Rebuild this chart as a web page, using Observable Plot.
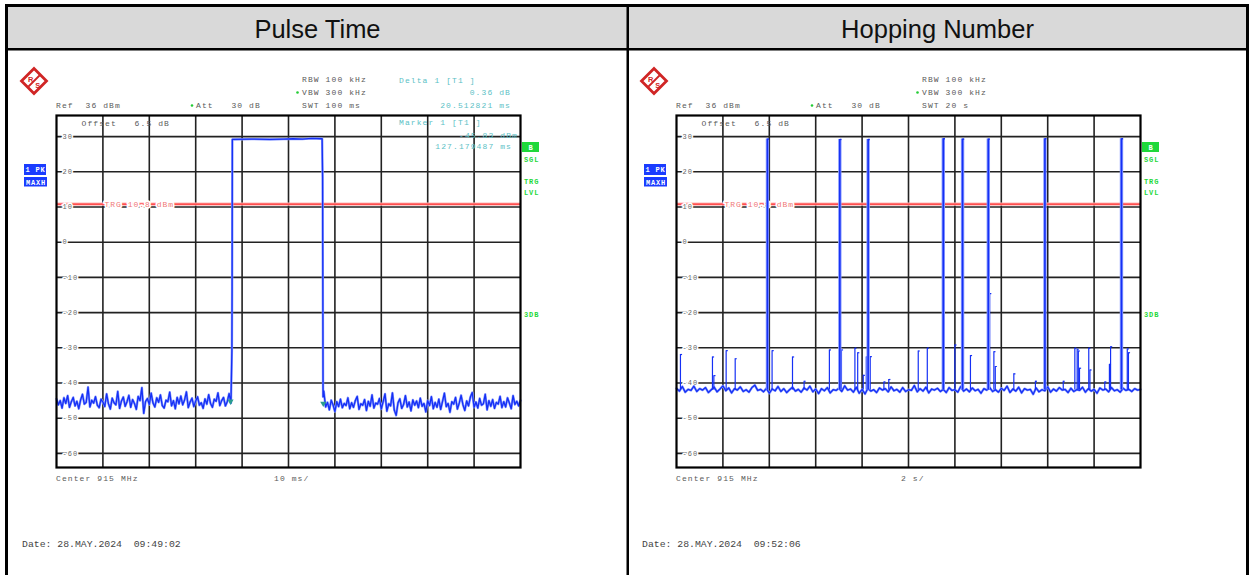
<!DOCTYPE html>
<html><head><meta charset="utf-8">
<script src="https://cdn.jsdelivr.net/npm/d3@7"></script>
<script src="https://cdn.jsdelivr.net/npm/@observablehq/plot@0.6"></script>
<style>
body{margin:0;background:#fff;}
#page{position:relative;width:1250px;height:575px;overflow:hidden;background:#fff;}
.chart{position:absolute;top:50px;width:620px;height:525px;}
#overlay{position:absolute;left:0;top:0;pointer-events:none;}
.mono{font-family:"Liberation Mono","DejaVu Sans Mono",monospace;font-size:8px;letter-spacing:1.1px;fill:#5a5a5a;}
.cyan{font-family:"Liberation Mono","DejaVu Sans Mono",monospace;font-size:8px;letter-spacing:1.1px;fill:#5cbfc6;}
.green{font-family:"Liberation Mono","DejaVu Sans Mono",monospace;font-size:7px;font-weight:bold;letter-spacing:0.9px;fill:#1fd83a;}
.boxw{font-family:"Liberation Mono","DejaVu Sans Mono",monospace;font-size:7px;font-weight:bold;letter-spacing:0.8px;fill:#fff;text-anchor:middle;}
.date{font-family:"Liberation Mono","DejaVu Sans Mono",monospace;font-size:9.8px;fill:#444;}
.title{font-family:"Liberation Sans",Arial,sans-serif;font-size:25.5px;fill:#111;text-anchor:middle;}
</style>
</head><body>
<div id="page">
  <div id="c1" class="chart" style="left:8px"></div>
  <div id="c2" class="chart" style="left:628px"></div>
  <svg id="overlay" width="1250" height="575"></svg>
</div>
<script>
// ---------- data ----------
const refLevel = 36;          // dBm (top of screen)
const bottomLevel = -64;      // dBm (bottom of screen)
const levelTicks = [30, 20, 10, 0, -10, -20, -30, -40, -50, -60];
const trgLevel = 10.8;

// Pulse Time (sweep 100 ms)
const pulseSweep = [0, 100];
const pulseGrid = [10, 20, 30, 40, 50, 60, 70, 80, 90];
const pulseStep = 0.4; // ms between trace samples
const pulseNoiseBefore = [
  -44.5,-46.2,-45.0,-47.1,-44.2,-45.8,-43.6,-46.9,-45.3,-44.1,
  -46.5,-45.2,-47.3,-44.8,-43.2,-46.0,-45.5,-41.2,-46.8,-44.9,
  -45.7,-43.9,-46.3,-47.0,-44.6,-45.4,-46.7,-43.1,-45.9,-47.4,
  -44.3,-45.6,-46.2,-42.4,-47.2,-45.1,-44.0,-46.6,-45.3,-43.5,
  -46.9,-44.7,-45.8,-47.5,-43.8,-45.0,-41.3,-48.6,-45.2,-44.4,
  -46.1,-42.9,-45.7,-46.8,-44.2,-45.5,-43.4,-46.4,-47.1,-44.9,
  -45.3,-42.6,-46.5,-45.0,-47.3,-44.1,-45.9,-43.7,-46.2,-44.8,
  -42.5,-47.0,-45.4,-44.3,-46.7,-45.1,-43.9,-46.3,-45.6,-47.2,
  -44.5,-46.0,-43.3,-45.8,-46.9,-44.6,-45.2,-42.8,-46.4,-45.0,
  -44.1,-46.5,-45.3,-43.0,-45.7
];
const pulseShape = [ // [ms, dBm]
  [37.8,-30.8],[37.85,-12.5],[37.9,29.2],[42,29.3],[46,29.2],[49,29.3],[51,29.4],
  [53,29.3],[55,29.5],[57.25,29.4],[57.35,18.5],[57.45,-43.9]
];
const pulseAfterStart = 57.6;
const pulseNoiseAfter = [
  -42.3,-46.8,-45.5,-47.6,-44.9,-46.2,-48.1,-45.3,-46.7,-44.6,
  -47.0,-45.8,-46.4,-44.2,-47.3,-45.6,-46.9,-45.0,-43.8,-47.5,
  -45.9,-46.3,-44.7,-47.8,-45.2,-46.6,-43.4,-47.1,-45.7,-46.0,
  -44.4,-47.4,-45.3,-43.1,-48.0,-45.9,-46.5,-42.8,-47.7,-49.2,
  -45.6,-44.5,-47.2,-46.1,-43.6,-46.8,-45.4,-47.9,-44.8,-46.3,
  -45.1,-47.0,-44.3,-46.6,-45.8,-48.2,-45.0,-46.4,-43.9,-47.3,
  -45.5,-46.9,-44.6,-47.5,-45.2,-42.9,-46.7,-45.8,-48.3,-45.3,
  -46.0,-44.1,-47.4,-45.7,-43.5,-46.2,-47.8,-45.1,-46.5,-44.0,
  -42.7,-46.9,-45.4,-47.1,-44.4,-46.3,-45.9,-43.2,-47.6,-45.0,
  -46.6,-44.7,-47.2,-45.5,-46.0,-43.8,-47.0,-45.3,-46.8,-44.2,
  -45.7,-47.3,-43.6,-46.1,-45.2,-46.5,-44.9
];
const pulseMarkers = [[37.5,-45.2],[57.5,-45.8]];

// Hopping Number (sweep 20 s)
const hopSweep = [0, 20];
const hopGrid = [2, 4, 6, 8, 10, 12, 14, 16, 18];
const hopStep = 0.125; // s between trace samples
const hopNoise = [
  -41.5,-42.3,-41.0,-42.6,-41.8,-42.1,-40.9,-42.4,-41.6,-42.0,
  -41.3,-42.7,-41.9,-41.2,-42.5,-41.7,-40.8,-42.2,-41.4,-42.8,
  -41.6,-42.0,-41.1,-42.4,-41.9,-42.6,-41.3,-40.6,-42.1,-41.8,
  -42.5,-41.5,-42.9,-41.7,-42.2,-41.0,-42.4,-41.6,-42.7,-41.9,
  -41.2,-42.3,-41.8,-42.6,-41.4,-42.0,-40.9,-42.5,-41.7,-43.0,
  -41.6,-42.2,-41.3,-42.8,-41.9,-42.1,-41.5,-42.4,-40.8,-42.0,
  -41.7,-42.6,-41.2,-42.9,-41.8,-43.1,-41.5,-42.3,-41.9,-42.7,
  -41.4,-42.0,-41.6,-42.5,-41.1,-42.2,-41.8,-42.6,-41.3,-42.4,
  -41.9,-42.1,-40.7,-42.5,-41.6,-42.3,-41.2,-42.8,-41.7,-42.0,
  -41.5,-42.4,-41.8,-42.7,-41.3,-42.1,-41.9,-42.6,-41.0,-42.3,
  -41.7,-42.5,-41.4,-42.2,-41.8,-42.9,-41.6,-42.0,-41.3,-42.4,
  -41.9,-42.6,-41.5,-42.1,-40.9,-42.7,-41.7,-42.3,-41.2,-42.8,
  -41.6,-42.0,-41.8,-43.2,-41.4,-42.5,-41.9,-42.2,-41.1,-42.6,
  -41.7,-42.3,-41.3,-42.0,-41.8,-42.7,-41.5,-42.4,-41.9,-42.1,
  -41.2,-42.6,-41.6,-42.3,-41.8,-42.9,-41.4,-42.0,-41.7,-42.5,
  -41.3,-42.2,-41.9,-42.6,-41.5,-42.1,-41.8,-42.4,-41.6,-42.0,
  -41.8
];
const hopBase = -42;
const hopBigTimes  = [3.92, 7.04, 8.26, 11.50, 12.33, 13.44, 15.88, 19.18];
const hopBigLevels = [29.3, 29.2, 29.2, 29.4, 29.3, 29.3, 29.4, 29.4];
const hopSmallTimes  = [0.17, 1.55, 1.61, 2.14, 2.53, 4.12, 5.00, 5.50, 6.59, 7.11, 7.69, 7.81, 8.05, 8.18, 8.35, 8.94, 9.15, 10.42, 10.81, 12.00, 12.67, 13.50, 13.68, 13.74, 14.54, 15.47, 16.67, 17.17, 17.27, 17.32, 17.37, 17.77, 17.82, 18.46, 18.66, 18.71, 19.43, 19.48];
const hopSmallLevels = [-31.9, -32.6, -37.9, -30.8, -33.1, -30.8, -32.6, -39.5, -30.6, -30.6, -30.1, -31.4, -37.8, -32.6, -32.5, -39.7, -39.0, -30.9, -30.1, -29.2, -32.2, -14.6, -31.1, -35.3, -37.4, -39.5, -39.5, -30.1, -30.4, -30.9, -35.8, -30.1, -36.3, -39.7, -34.7, -29.7, -30.3, -31.4];

// ---------- chart ----------
const mono = "Liberation Mono, DejaVu Sans Mono, monospace";
const blue = "#1530f5";
const blueHalo = "#8a9bff";

function spectrum(xDomain, xGrid, dataMarks) {
  return Plot.plot({
    width: 620, height: 525,
    marginLeft: 48, marginRight: 108, marginTop: 65, marginBottom: 108,
    style: "background: transparent; overflow: visible; letter-spacing: 1px;",
    x: {domain: xDomain, axis: null},
    y: {domain: [bottomLevel, refLevel], axis: null},
    marks: [
      Plot.ruleX(xGrid, {stroke: "#222", strokeWidth: 1.6}),
      Plot.ruleY(levelTicks, {stroke: "#222", strokeWidth: 1.6}),
      Plot.ruleY([trgLevel], {stroke: "#ffb8b8", strokeWidth: 3.2}),
      Plot.ruleY([trgLevel], {stroke: "#ff2d2d", strokeWidth: 1.2}),
      Plot.text([trgLevel], {y: d => d, text: d => `TRG ${d} dBm`, frameAnchor: "left", dx: 48,
        textAnchor: "start", fill: "#f07878", stroke: "white", strokeWidth: 3.5, paintOrder: "stroke",
        fontFamily: mono, fontSize: 8}),
      Plot.text(levelTicks, {y: d => d, text: d => String(d), frameAnchor: "left", dx: 6,
        textAnchor: "start", fill: "#666", stroke: "white", strokeWidth: 3, paintOrder: "stroke",
        fontFamily: mono, fontSize: 7}),
      ...dataMarks,
      Plot.frame({stroke: "#000", strokeWidth: 2.2})
    ]
  });
}

// Pulse trace
const pulseTrace = [];
pulseNoiseBefore.forEach((v, i) => pulseTrace.push({t: i * pulseStep, db: v}));
pulseShape.forEach(([t, db]) => pulseTrace.push({t, db}));
pulseNoiseAfter.forEach((v, i) => pulseTrace.push({t: pulseAfterStart + i * pulseStep, db: v}));

document.getElementById("c1").append(spectrum(pulseSweep, pulseGrid, [
  Plot.line(pulseTrace, {x: "t", y: "db", stroke: blueHalo, strokeWidth: 2.4}),
  Plot.line(pulseTrace, {x: "t", y: "db", stroke: blue, strokeWidth: 1.3}),
  Plot.dot(pulseMarkers, {x: d => d[0], y: d => d[1], symbol: "triangle", rotate: 180, r: 2.3, fill: "#2a9d8f"})
]));

// Hopping trace
const hopTrace = hopNoise.map((v, i) => ({t: i * hopStep, db: v}));
const hopBig = hopBigTimes.map((t, i) => ({t, db: hopBigLevels[i]}));
const hopSmall = hopSmallTimes.map((t, i) => ({t, db: hopSmallLevels[i]}));

document.getElementById("c2").append(spectrum(hopSweep, hopGrid, [
  Plot.line(hopTrace, {x: "t", y: "db", stroke: blueHalo, strokeWidth: 2.4}),
  Plot.line(hopTrace, {x: "t", y: "db", stroke: blue, strokeWidth: 1.3}),
  Plot.ruleX(hopSmall, {x: "t", y1: hopBase, y2: "db", stroke: blue, strokeWidth: 1.2}),
  Plot.link(hopSmall, {x1: "t", x2: d => d.t + 0.07, y1: "db", y2: "db", stroke: blue, strokeWidth: 1.2}),
  Plot.ruleX(hopBig, {x: "t", y1: hopBase, y2: "db", stroke: blueHalo, strokeWidth: 3.4}),
  Plot.ruleX(hopBig, {x: "t", y1: hopBase, y2: "db", stroke: blue, strokeWidth: 1.6}),
  Plot.link(hopBig, {x1: "t", x2: d => d.t + 0.07, y1: "db", y2: "db", stroke: blue, strokeWidth: 1.4})
]));

// ---------- annotations (instrument screen texts) ----------
const nb = str => str.replace(/ /g, "\u00a0");
const panels = [
  {title: "Pulse Time", swt: "SWT 100 ms", perDiv: "10 ms/", perDivX: 274, date: "Date: 28.MAY.2024  09:49:02", markers: true},
  {title: "Hopping Number", swt: "SWT 20 s", perDiv: "2 s/", perDivX: 281, date: "Date: 28.MAY.2024  09:52:06", markers: false}
];

let s = `<rect x="8" y="7" width="1238" height="41" fill="#d9d9d9"/>`;
const T = (cls, x, y, str, extra = "") => `<text class="${cls}" x="${x}" y="${y}" ${extra}>${nb(str)}</text>`;
panels.forEach((p, i) => {
  const ox = i * 620;
  s += `<text class="title" x="${317.5 + ox}" y="38">${p.title}</text>`;
  s += `<g transform="translate(${ox},0)">`;
  s += `<g transform="translate(34,81)">
      <path d="M0,-12.5 L12.5,0 L0,12.5 L-12.5,0Z" fill="#fff" stroke="#d02525" stroke-width="2.8"/>
      <path d="M6.5,-6.5 L-6.5,6.5" stroke="#d02525" stroke-width="1.8"/>
      <text x="-3.3" y="0.8" font-family="Liberation Sans,Arial" font-weight="bold" font-size="7.5" fill="#d02525" text-anchor="middle">R</text>
      <text x="3.7" y="7.3" font-family="Liberation Sans,Arial" font-weight="bold" font-size="7.5" fill="#d02525" text-anchor="middle">S</text>
    </g>`;
  s += T("mono", 302, 82, "RBW 100 kHz");
  s += `<circle cx="297.5" cy="92.5" r="1.3" fill="#22cc33"/>`;
  s += T("mono", 302, 95, "VBW 300 kHz");
  s += T("mono", 302, 108, p.swt);
  s += T("mono", 56, 108, "Ref  36 dBm");
  s += `<circle cx="192" cy="105.5" r="1.3" fill="#22cc33"/>`;
  s += T("mono", 196, 108, "Att   30 dB");
  s += T("mono", 81.5, 125.5, "Offset   6.5 dB");
  s += `<rect x="24" y="164" width="22" height="11" fill="#1a3cff"/>`;
  s += T("boxw", 35.5, 172.3, "1 PK");
  s += `<rect x="24" y="177" width="23" height="9.5" fill="#1a3cff"/>`;
  s += T("boxw", 36, 184.5, "MAXH");
  s += `<rect x="522" y="142" width="17" height="10" fill="#1fd83a"/>`;
  s += T("boxw", 531, 150, "B");
  s += T("green", 524, 162, "SGL");
  s += T("green", 524, 184, "TRG");
  s += T("green", 524, 195, "LVL");
  s += T("green", 524, 317, "3DB");
  s += T("mono", 56, 481, "Center 915 MHz");
  s += T("mono", p.perDivX, 481, p.perDiv);
  s += T("date", 22, 546.5, p.date);
  if (p.markers) {
    s += T("cyan", 399, 83, "Delta 1 [T1 ]");
    s += T("cyan", 511, 95, "0.36 dB", `text-anchor="end"`);
    s += T("cyan", 511, 108, "20.512821 ms", `text-anchor="end"`);
    s += T("cyan", 399, 125, "Marker 1 [T1 ]");
    s += T("cyan", 518, 138, "-45.83 dBm", `text-anchor="end"`);
    s += T("cyan", 512, 149, "127.179487 ms", `text-anchor="end"`);
  }
  s += `</g>`;
});
// table borders
s += `<rect x="5" y="4" width="1244" height="3" fill="#000"/>`;
s += `<rect x="5" y="48" width="1244" height="2.5" fill="#000"/>`;
s += `<rect x="5" y="4" width="3" height="571" fill="#000"/>`;
s += `<rect x="626.5" y="4" width="2.5" height="571" fill="#000"/>`;
s += `<rect x="1246" y="4" width="3" height="571" fill="#000"/>`;
document.getElementById("overlay").innerHTML = s;
</script>
</body></html>
